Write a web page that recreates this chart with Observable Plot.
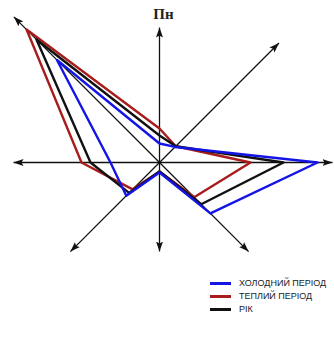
<!DOCTYPE html>
<html>
<head>
<meta charset="utf-8">
<script src="https://cdn.jsdelivr.net/npm/d3@7"></script>
<script src="https://cdn.jsdelivr.net/npm/@observablehq/plot@0.6"></script>
<style>
  body { margin: 0; background: #ffffff; }
  #legend { padding-top: 7px; padding-left: 210px; font-family: "Liberation Sans", Arial, sans-serif; font-size: 9px; color: #222; }
  .row { height: 13px; line-height: 13px; display: flex; align-items: center; }
  .sw { display: inline-block; width: 21px; height: 3px; margin-right: 8px; }
</style>
</head>
<body>
<div id="chart"></div>
<div id="legend"></div>
<script>
// Directions (clockwise from north) and their angles in degrees
const directions = ["N", "NE", "E", "SE", "S", "SW", "W", "NW"];
const angles = [0, 45, 90, 135, 180, 225, 270, 315];
// Length of each axis arrow (same units as values)
const axisLengths = [135, 169, 173, 126, 89, 126, 146, 206];
// Series values per direction
const coldValues = [19, 22, 158, 72, 10, 47, 49, 145];
const warmValues = [34, 23, 91, 49, 9, 38, 78, 188];
const yearValues = [27, 23, 124, 59, 9, 43, 69, 174];
const seriesNames = ["ХОЛОДНИЙ ПЕРІОД", "ТЕПЛИЙ ПЕРІОД", "РІК"];
const seriesColors = ["#1414e6", "#a81c1c", "#111111"];
const northLabel = "Пн";

const rad = a => a * Math.PI / 180;
function polar(values, name) {
  return directions.map((d, i) => ({
    series: name, dir: d, value: values[i],
    x: values[i] * Math.sin(rad(angles[i])),
    y: values[i] * Math.cos(rad(angles[i]))
  }));
}
const cold = polar(coldValues, seriesNames[0]);
const warm = polar(warmValues, seriesNames[1]);
const year = polar(yearValues, seriesNames[2]);
const axes = polar(axisLengths, "axis");

function filledArrow(color) {
  const m = d3.create("svg:marker")
    .attr("viewBox", "-10 -4 10 8")
    .attr("markerWidth", 10).attr("markerHeight", 8)
    .attr("markerUnits", "userSpaceOnUse")
    .attr("refX", 0).attr("refY", 0)
    .attr("orient", "auto");
  m.append("path").attr("fill", color).attr("stroke", "none")
    .attr("d", "M-10,-3.5L0,0L-10,3.5L-8,0Z");
  return m.node();
}

const W = 334, H = 270;
const chart = Plot.plot({
  width: W, height: H, margin: 0,
  x: { domain: [-159, W - 159], axis: null },
  y: { domain: [-(H - 162), 162], axis: null },
  color: { domain: seriesNames, range: seriesColors },
  style: { background: "#ffffff", overflow: "visible" },
  marks: [
    Plot.link(axes, { x1: 0, y1: 0, x2: "x", y2: "y", stroke: "#111", strokeWidth: 1.3, markerEnd: filledArrow }),
    Plot.line(warm, { x: "x", y: "y", stroke: "series", strokeWidth: 2.4, curve: "linear-closed" }),
    Plot.line(year, { x: "x", y: "y", stroke: "series", strokeWidth: 2.4, curve: "linear-closed" }),
    Plot.line(cold, { x: "x", y: "y", stroke: "series", strokeWidth: 2.4, curve: "linear-closed" }),
    Plot.text(axes.filter(d => d.dir === "N"), {
      x: "x", y: "y", text: () => northLabel, dy: -13, dx: 4,
      fontFamily: "Liberation Serif", fontWeight: "bold", fontSize: 15, fill: "#222"
    })
  ]
});
document.getElementById("chart").appendChild(chart);

const legend = d3.select("#legend");
seriesNames.forEach((n, i) => {
  const r = legend.append("div").attr("class", "row");
  r.append("span").attr("class", "sw").style("background", seriesColors[i]);
  r.append("span").text(n);
});
</script>
</body>
</html>
